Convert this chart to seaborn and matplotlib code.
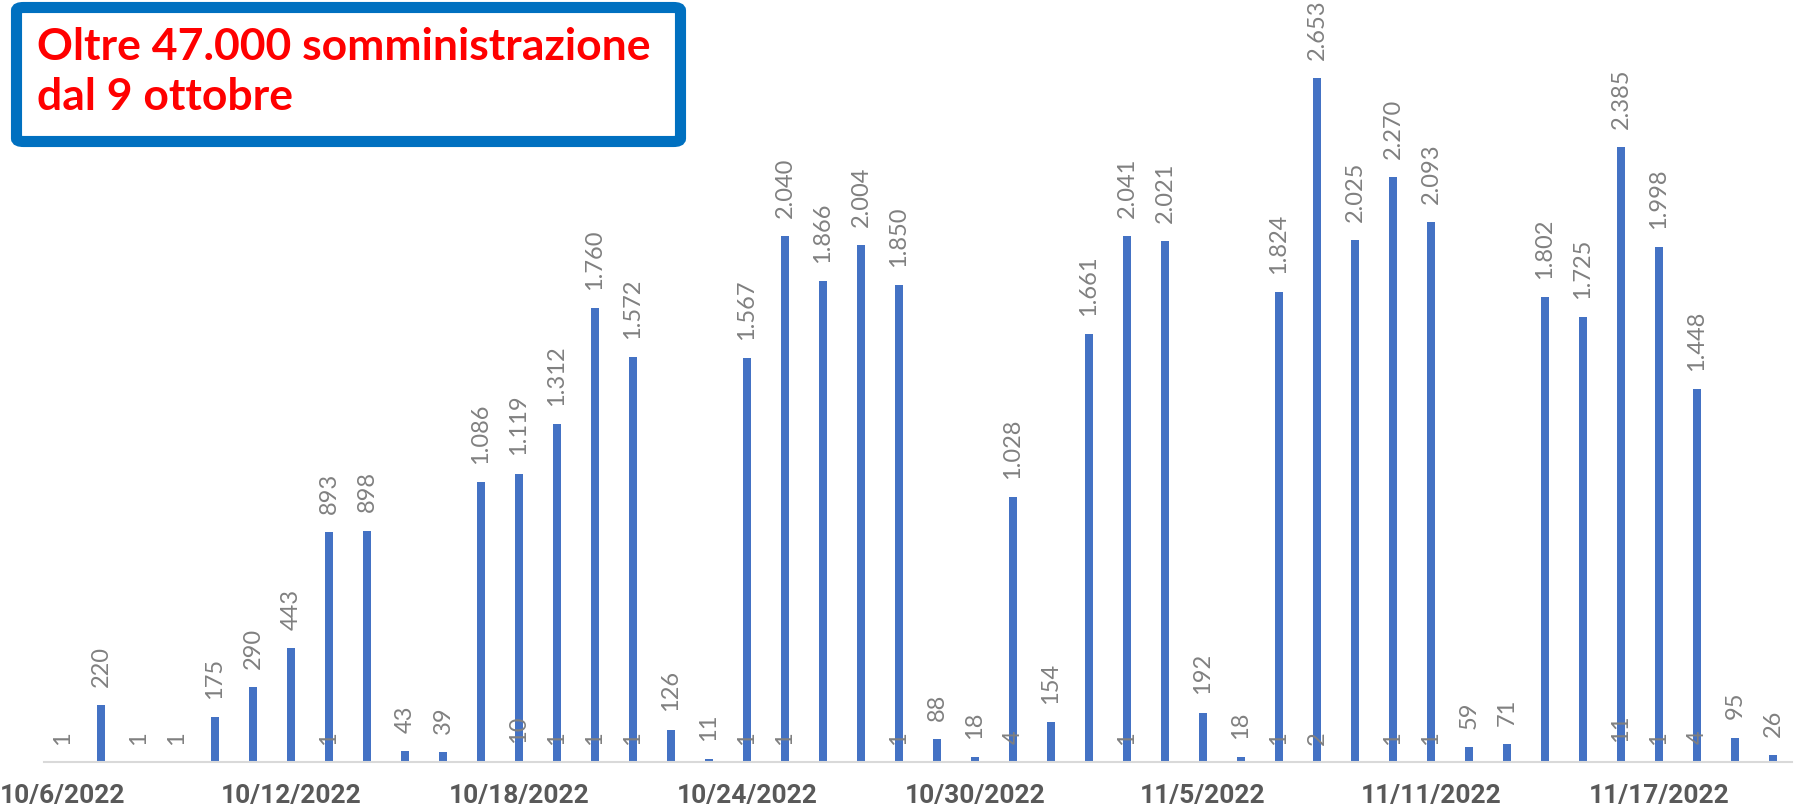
import matplotlib
matplotlib.use("Agg")
import matplotlib.pyplot as plt
from matplotlib.patches import FancyBboxPatch
import pandas as pd
import seaborn as sns

# giorni dal 6 ottobre al 20 novembre 2022
days = pd.date_range("2022-10-06", "2022-11-20", freq="D")
dates = [f"{d.month}/{d.day}/{d.year}" for d in days]

# somministrazioni giornaliere (0 = nessun valore)
main_vals = [0, 220, 0, 0, 175, 290, 443, 893, 898, 43,
             39, 1086, 1119, 1312, 1760, 1572, 126, 11, 1567, 2040,
             1866, 2004, 1850, 88, 18, 1028, 154, 1661, 2041, 2021,
             192, 18, 1824, 2653, 2025, 2270, 2093, 59, 71, 1802,
             1725, 2385, 1998, 1448, 95, 26]

# seconda serie, valori piccoli
extra_vals = [1, 0, 1, 1, 0, 0, 0, 1, 0, 0,
              0, 0, 10, 1, 1, 1, 0, 0, 1, 1,
              0, 0, 1, 0, 0, 4, 0, 0, 1, 0,
              0, 0, 1, 2, 0, 1, 1, 0, 0, 0,
              0, 11, 1, 4, 0, 0]

tick_labels = ["10/6/2022", "10/12/2022", "10/18/2022", "10/24/2022",
               "10/30/2022", "11/5/2022", "11/11/2022", "11/17/2022"]

title_lines = ["Oltre 47.000 somministrazione", "dal 9 ottobre"]

BLUE = "#4472C4"
GRAY = "#808080"
LABEL_FONT = ["Lato", "DejaVu Sans"]
TICK_FONT = ["Roboto", "DejaVu Sans"]


def fmt(v):
    return f"{v:,}".replace(",", ".") if v else ""


df = pd.DataFrame({"data": dates, "main": main_vals, "extra": extra_vals})

sns.set_style("white")
plt.rcParams["font.family"] = LABEL_FONT

W, H = 1795, 811
fig = plt.figure(figsize=(W / 100, H / 100), dpi=100)
ax = fig.add_axes([44 / W, 49 / H, 1748 / W, 762 / H])

sns.barplot(data=df, x="data", y="main", order=dates, color=BLUE,
            saturation=1, width=0.2, linewidth=0, ax=ax)
sns.barplot(data=df, x="data", y="extra", order=dates, color=BLUE,
            saturation=1, width=0.2, linewidth=0, ax=ax)

ax.bar_label(ax.containers[0], labels=[fmt(v) for v in main_vals],
             rotation=90, padding=13, color=GRAY, fontsize=17,
             family=LABEL_FONT)
ax.bar_label(ax.containers[1], labels=[fmt(v) for v in extra_vals],
             rotation=90, padding=12, color=GRAY, fontsize=17,
             family=LABEL_FONT)

ax.set_xlim(-0.5, 45.5)
ax.set_ylim(0, 2956)
ax.set_yticks([])
ax.set_xlabel("")
ax.set_ylabel("")
ax.set_xticks(range(0, 46, 6))
ax.set_xticklabels(tick_labels, fontsize=19, fontweight="bold",
                   color="#595959", family=TICK_FONT)
ax.tick_params(axis="x", length=0, pad=16)

for s in ["left", "top", "right"]:
    ax.spines[s].set_visible(False)
ax.spines["bottom"].set_color("#D9D9D9")
ax.spines["bottom"].set_linewidth(1.5)

# riquadro del titolo
box = FancyBboxPatch((16.5 / W, 1 - 141.5 / H), 664 / W, 134 / H,
                     boxstyle="round,pad=0,rounding_size=0.004",
                     transform=fig.transFigure, facecolor="white",
                     edgecolor="#0070C0", linewidth=8, zorder=5)
fig.add_artist(box)
fig.text(37 / W, 1 - 60 / H, title_lines[0], color="#FF0000", fontsize=32,
         fontweight="bold", family=LABEL_FONT, va="baseline", zorder=6)
fig.text(37 / W, 1 - 110 / H, title_lines[1], color="#FF0000", fontsize=32,
         fontweight="bold", family=LABEL_FONT, va="baseline", zorder=6)

fig.savefig("out.png", dpi=100)
plt.close(fig)
